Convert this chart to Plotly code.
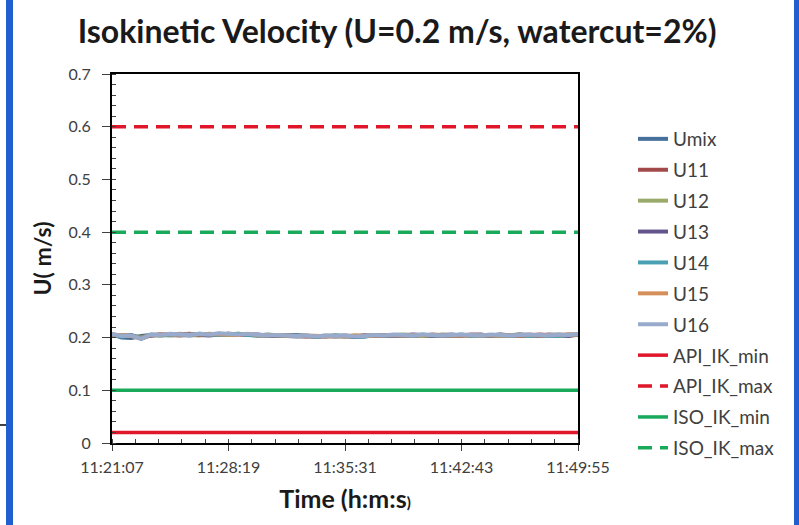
import pandas as pd
import plotly.graph_objects as go

# Sampling times (every 36 s) and measured velocities (m/s)
t_start = "2020-01-01 11:21:07"
times = pd.date_range(t_start, periods=49, freq="36s")

umix = [0.206, 0.200, 0.199, 0.203, 0.205, 0.204, 0.206, 0.205, 0.204, 0.206,
        0.205, 0.207, 0.206, 0.205, 0.206, 0.204, 0.203, 0.204, 0.203, 0.202,
        0.203, 0.201, 0.203, 0.202, 0.203, 0.201, 0.202, 0.204, 0.203, 0.205,
        0.204, 0.203, 0.205, 0.204, 0.203, 0.204, 0.205, 0.204, 0.203, 0.205,
        0.204, 0.203, 0.204, 0.205, 0.204, 0.203, 0.205, 0.204, 0.206]
u11 = [0.205, 0.204, 0.202, 0.201, 0.204, 0.206, 0.205, 0.204, 0.206, 0.205,
       0.206, 0.205, 0.207, 0.206, 0.205, 0.204, 0.205, 0.203, 0.204, 0.203,
       0.202, 0.203, 0.202, 0.204, 0.202, 0.203, 0.204, 0.203, 0.205, 0.204,
       0.205, 0.204, 0.204, 0.206, 0.205, 0.203, 0.204, 0.206, 0.205, 0.204,
       0.206, 0.205, 0.203, 0.204, 0.206, 0.205, 0.204, 0.206, 0.205]
u12 = [0.204, 0.205, 0.203, 0.200, 0.205, 0.204, 0.206, 0.207, 0.205, 0.204,
       0.207, 0.206, 0.205, 0.207, 0.206, 0.205, 0.203, 0.204, 0.205, 0.204,
       0.203, 0.202, 0.204, 0.203, 0.202, 0.204, 0.203, 0.204, 0.203, 0.205,
       0.206, 0.205, 0.203, 0.204, 0.206, 0.204, 0.205, 0.203, 0.204, 0.205,
       0.203, 0.205, 0.206, 0.204, 0.203, 0.205, 0.206, 0.204, 0.205]
u13 = [0.206, 0.203, 0.205, 0.198, 0.204, 0.206, 0.205, 0.206, 0.207, 0.205,
       0.204, 0.206, 0.207, 0.205, 0.206, 0.206, 0.204, 0.203, 0.204, 0.205,
       0.203, 0.203, 0.202, 0.203, 0.204, 0.202, 0.204, 0.203, 0.204, 0.203,
       0.204, 0.206, 0.205, 0.203, 0.205, 0.206, 0.204, 0.205, 0.206, 0.203,
       0.205, 0.204, 0.206, 0.205, 0.203, 0.206, 0.205, 0.203, 0.206]
u14 = [0.205, 0.202, 0.204, 0.199, 0.206, 0.205, 0.204, 0.206, 0.205, 0.207,
       0.206, 0.205, 0.206, 0.207, 0.205, 0.204, 0.206, 0.205, 0.203, 0.204,
       0.204, 0.202, 0.203, 0.204, 0.203, 0.203, 0.202, 0.205, 0.204, 0.204,
       0.205, 0.203, 0.206, 0.204, 0.205, 0.204, 0.206, 0.203, 0.205, 0.204,
       0.206, 0.203, 0.205, 0.203, 0.205, 0.204, 0.203, 0.205, 0.206]
u15 = [0.206, 0.204, 0.203, 0.198, 0.205, 0.206, 0.206, 0.205, 0.206, 0.206,
       0.207, 0.206, 0.206, 0.205, 0.207, 0.205, 0.205, 0.204, 0.204, 0.203,
       0.204, 0.203, 0.203, 0.202, 0.203, 0.204, 0.203, 0.204, 0.205, 0.205,
       0.204, 0.205, 0.205, 0.205, 0.204, 0.205, 0.205, 0.204, 0.204, 0.205,
       0.205, 0.204, 0.204, 0.206, 0.204, 0.205, 0.205, 0.205, 0.206]
u16 = [0.207, 0.203, 0.204, 0.197, 0.206, 0.205, 0.207, 0.206, 0.205, 0.207,
       0.206, 0.208, 0.207, 0.206, 0.207, 0.205, 0.204, 0.205, 0.204, 0.203,
       0.204, 0.202, 0.204, 0.203, 0.204, 0.202, 0.203, 0.205, 0.204, 0.206,
       0.205, 0.204, 0.206, 0.205, 0.204, 0.205, 0.206, 0.205, 0.204, 0.206,
       0.205, 0.204, 0.205, 0.206, 0.205, 0.204, 0.206, 0.205, 0.207]

# Isokinetic limits (m/s)
api_ik_min = 0.02
api_ik_max = 0.6
iso_ik_min = 0.1
iso_ik_max = 0.4

series = [
    ("Umix", umix, "#46709b"),
    ("U11", u11, "#a24a4b"),
    ("U12", u12, "#9aaa6a"),
    ("U13", u13, "#63548c"),
    ("U14", u14, "#4aa0b2"),
    ("U15", u15, "#d58f5b"),
    ("U16", u16, "#98abcc"),
]
limits = [
    ("API_IK_min", api_ik_min, "#e0162b", "solid"),
    ("API_IK_max", api_ik_max, "#e0162b", "14px,8px"),
    ("ISO_IK_min", iso_ik_min, "#18a95b", "solid"),
    ("ISO_IK_max", iso_ik_max, "#18a95b", "14px,8px"),
]

fig = go.Figure()
for name, vals, color in series:
    fig.add_trace(go.Scatter(
        x=times, y=vals, mode="lines", name=name, legendgroup=name,
        line=dict(color=color, width=4),
    ))
t_ends = [times[0], times[-1]]
for name, val, color, dash in limits:
    fig.add_trace(go.Scatter(
        x=t_ends, y=[val, val], mode="lines", name=name, legendgroup=name,
        line=dict(color=color, width=3.5, dash=dash),
    ))

W, H = 799, 525
ML, MR, MT, MB = 112, 221, 74, 82
pw = W - ML - MR
ph = H - MT - MB


def px_x(px):
    return (px - ML) / pw


def px_y(py):
    return 1 - (py - MT) / ph


font_family = "Lato, Open Sans, sans-serif"
tick_font = dict(family=font_family, size=16, color="#404040")

fig.update_layout(
    width=W, height=H,
    margin=dict(l=ML, r=MR, t=MT, b=MB),
    paper_bgcolor="white", plot_bgcolor="white",
    title=dict(
        text="<b>Isokinetic Velocity (U=0.2 m/s, watercut=2%)</b>",
        x=0.497, xanchor="center", y=0.94, yanchor="middle",
        font=dict(family=font_family, size=32, color="#1a1a1a"),
    ),
    legend=dict(
        x=px_x(633), xanchor="left", y=px_y(120), yanchor="top",
        font=dict(family=font_family, size=19, color="#404040"),
        tracegroupgap=3.2, bgcolor="rgba(0,0,0,0)",
    ),
    showlegend=True,
)

fig.update_xaxes(
    type="date",
    range=[times[0], times[-1]],
    tick0=t_start, dtick=432000, tickformat="%H:%M:%S",
    ticks="outside", ticklen=6, tickwidth=1, tickcolor="#404040",
    ticklabelstandoff=3,
    minor=dict(dtick=86400, tick0=t_start, ticks="inside", ticklen=4,
               tickcolor="#404040", showgrid=False),
    showline=True, linecolor="black", linewidth=2, mirror=True,
    showgrid=False, zeroline=False, tickfont=tick_font,
    title=dict(
        text="<b>Time (h:m:s<span style='font-size:15px'>)</span></b>",
        font=dict(family=font_family, size=25, color="#1a1a1a"),
        standoff=15,
    ),
)
fig.update_yaxes(
    range=[0, 0.7], dtick=0.1, tickformat="~g",
    ticks="outside", ticklen=8, tickwidth=1, tickcolor="#404040",
    ticklabelstandoff=8,
    minor=dict(dtick=0.02, ticks="inside", ticklen=4, tickcolor="#404040",
               showgrid=False),
    showline=True, linecolor="black", linewidth=2, mirror=True,
    showgrid=False, zeroline=False, tickfont=tick_font,
    title=dict(
        text="<b>U( m/s)</b>",
        font=dict(family=font_family, size=23, color="#1a1a1a"),
        standoff=10,
    ),
)

# Frame decorations: blue side bars and a short black rule at the left edge
fig.add_shape(type="rect", xref="paper", yref="paper",
              x0=px_x(6), x1=px_x(13), y0=px_y(0), y1=px_y(H),
              fillcolor="#1f5fcf", line_width=0, layer="above")
fig.add_shape(type="rect", xref="paper", yref="paper",
              x0=px_x(794), x1=px_x(799), y0=px_y(0), y1=px_y(H),
              fillcolor="#1f5fcf", line_width=0, layer="above")
fig.add_shape(type="line", xref="paper", yref="paper",
              x0=px_x(0), x1=px_x(6), y0=px_y(425), y1=px_y(425),
              line=dict(color="black", width=1.5), layer="above")

fig.write_html("out.html")
